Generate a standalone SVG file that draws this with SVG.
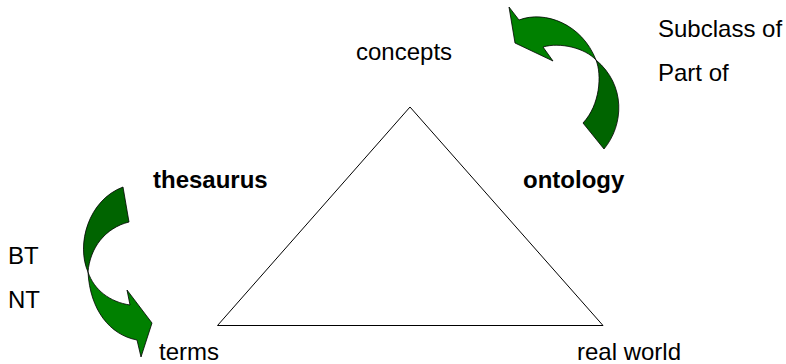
<svg xmlns="http://www.w3.org/2000/svg" width="786" height="364" viewBox="0 0 786 364">
<style>
text{font-family:"Liberation Sans",Arial,sans-serif;font-size:24px;fill:#000}
.b{font-weight:bold}
.lt{fill:#008000;stroke:#000;stroke-width:0.8;stroke-linejoin:miter}
.dk{fill:#006400;stroke:#000;stroke-width:0.8;stroke-linejoin:miter}
.tri{fill:none;stroke:#000;stroke-width:1}
</style>
<rect width="786" height="364" fill="#fff"/>
<g id="triangle">
<polygon class="tri" points="410,107 217.5,325.5 603,325.5"/>
</g>
<g id="connectors">
<g id="arrow-ontology">
<path class="dk" d="M596,60 C602,75 600,105 583,123 L604,149 C624,125 626,85 596,60 Z"/>
<path class="lt" d="M509,7 L519,20 C545,10 582,24 596,60 C585,48 560,42 543,47 L553,61 L515,43 Z"/>
</g>
<g id="arrow-thesaurus">
<path class="dk" d="M123,187 C88,200 76,245 88,272 C90,248 105,228 129,222 Z"/>
<path class="lt" d="M88,272 C90,310 110,335 137,340 L141,357 L152,323 L127,290 L130,305 C110,302 94,290 88,272 Z"/>
</g>
</g>
<g id="node-concepts"><text x="356" y="60">concepts</text></g>
<g id="node-terms"><text x="159" y="360">terms</text></g>
<g id="node-realworld"><text x="577" y="360">real world</text></g>
<g id="label-thesaurus"><text class="b" x="153" y="188">thesaurus</text></g>
<g id="label-ontology"><text class="b" x="523" y="188">ontology</text></g>
<g id="label-btnt"><text x="8" y="264">BT</text><text x="8" y="308">NT</text></g>
<g id="label-subclass"><text x="658" y="37">Subclass of</text><text x="658" y="81">Part of</text></g>
</svg>
